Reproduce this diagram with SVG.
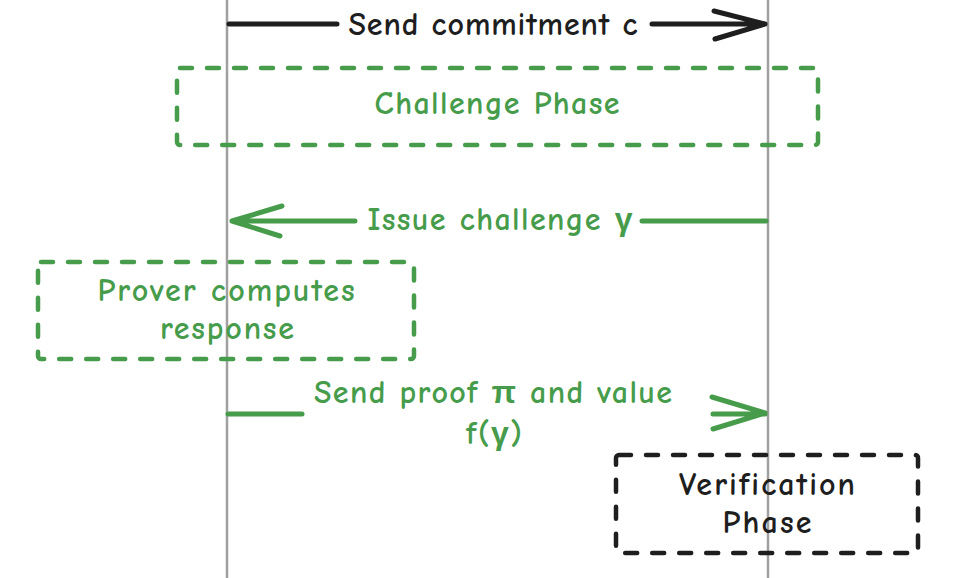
<svg xmlns="http://www.w3.org/2000/svg" width="964" height="578" viewBox="0 0 964 578">
<defs>
<style>
.life{stroke:#a0a0a0;stroke-width:2.5;fill:none}
.box{fill:none;stroke-width:4.5;stroke-dasharray:12 15;stroke-linecap:round;stroke-linejoin:round}
.g{stroke:#469c4b}
.k{stroke:#1e1e1e}
.ln{fill:none;stroke-width:5;stroke-linecap:round;stroke-linejoin:round}
.t{font-family:"Comic Neue","Liberation Sans","Open Sans",sans-serif;font-size:32px;font-weight:bold;text-anchor:middle}
.tg{fill:#469c4b}
.tk{fill:#1e1e1e}
</style>
</defs>
<g id="lifelines">
<line class="life" x1="227" y1="0" x2="227" y2="578"/>
<line class="life" x1="768" y1="0" x2="768" y2="578"/>
</g>
<g id="challenge-phase">
<rect class="box g" x="177" y="68" width="641" height="77" rx="3"/>
<text class="t tg" x="497" y="114" textLength="245" lengthAdjust="spacing">Challenge Phase</text>
</g>
<g id="prover-computes">
<rect class="box g" x="38" y="262" width="376" height="97" rx="3"/>
<text class="t tg" x="226" y="301" textLength="257" lengthAdjust="spacing">Prover computes</text>
<text class="t tg" x="227" y="339" textLength="134" lengthAdjust="spacing">response</text>
</g>
<g id="verification-phase">
<rect class="box k" x="616" y="455" width="302" height="98" rx="3"/>
<text class="t tk" x="767" y="495" textLength="176" lengthAdjust="spacing">Verification</text>
<text class="t tk" x="767" y="533" textLength="89" lengthAdjust="spacing">Phase</text>
</g>
<g id="connectors">
<path class="ln k" d="M229 24 L337 24 M652 24 L765 24 M714 11 L765 24 L715 39"/>
<text class="t tk" x="493" y="35" textLength="289" lengthAdjust="spacing">Send commitment c</text>
<path class="ln g" d="M232 221 L355 221 M642 221 L766 221 M282 206 L232 221 L280 236"/>
<text class="t tg" x="500" y="230" textLength="265" lengthAdjust="spacing">Issue challenge γ</text>
<path class="ln g" d="M228 414 L302 414 M713 414 L765 414 M712 397 L765 413 L713 429"/>
<text class="t tg" x="493" y="403" textLength="358" lengthAdjust="spacing">Send proof π and value</text>
<text class="t tg" x="494" y="444" textLength="56" lengthAdjust="spacing">f(γ)</text>
</g>
</svg>
